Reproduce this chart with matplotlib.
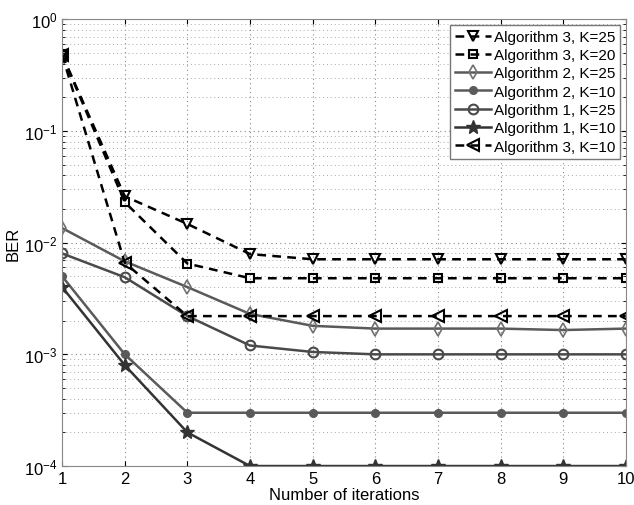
import matplotlib
matplotlib.use('Agg')
from matplotlib import pyplot as plt
from matplotlib.ticker import LogLocator, NullFormatter

plt.rcParams['font.family'] = ['Liberation Sans', 'DejaVu Sans']

iterations = [1, 2, 3, 4, 5, 6, 7, 8, 9, 10]

alg3_k25 = [0.48, 0.026, 0.0147, 0.0079, 0.0071, 0.0071, 0.0071, 0.0071, 0.0071, 0.0071]
alg3_k20 = [0.48, 0.023, 0.0065, 0.0048, 0.0048, 0.0048, 0.0048, 0.0048, 0.0048, 0.0048]
alg2_k25 = [0.0135, 0.0068, 0.0040, 0.0023, 0.0018, 0.0017, 0.0017, 0.0017, 0.00165, 0.0017]
alg2_k10 = [0.005, 0.001, 0.0003, 0.0003, 0.0003, 0.0003, 0.0003, 0.0003, 0.0003, 0.0003]
alg1_k25 = [0.008, 0.0049, 0.0022, 0.0012, 0.00105, 0.001, 0.001, 0.001, 0.001, 0.001]
alg1_k10 = [0.004, 0.0008, 0.0002, 0.0001, 0.0001, 0.0001, 0.0001, 0.0001, 0.0001, 0.0001]
alg3_k10 = [0.48, 0.0066, 0.0022, 0.0022, 0.0022, 0.0022, 0.0022, 0.0022, 0.0022, 0.0022]

fig = plt.figure(figsize=(6.34, 5.06), dpi=100)
ax = fig.add_axes([0.098, 0.077, 0.889, 0.883])

dash = (0, (3.5, 2.5))
ms = 7
ax.plot(iterations, alg3_k25, color='black', ls=dash, lw=1.8, marker='v',
        mfc='none', mec='black', ms=ms, mew=1.5, label='Algorithm 3, K=25')
ax.plot(iterations, alg3_k20, color='black', ls=dash, lw=1.8, marker='s',
        mfc='none', mec='black', ms=ms - 1, mew=1.5, label='Algorithm 3, K=20')
ax.plot(iterations, alg2_k25, color='#5a5a5a', ls='-', lw=1.8, marker='d',
        mfc='none', mec='#707070', ms=ms, mew=1.2, label='Algorithm 2, K=25')
ax.plot(iterations, alg2_k10, color='#5a5a5a', ls='-', lw=1.8, marker='o',
        mfc='#5a5a5a', mec='#5a5a5a', ms=5.5, label='Algorithm 2, K=10')
ax.plot(iterations, alg1_k25, color='#4a4a4a', ls='-', lw=1.8, marker='o',
        mfc='none', mec='#4a4a4a', ms=ms, mew=1.5, label='Algorithm 1, K=25')
ax.plot(iterations, alg1_k10, color='#333333', ls='-', lw=1.8, marker='*',
        mfc='#333333', mec='#333333', ms=10, label='Algorithm 1, K=10')
ax.plot(iterations, alg3_k10, color='black', ls=dash, lw=1.8, marker='<',
        mfc='none', mec='black', ms=ms + 1, mew=1.5, label='Algorithm 3, K=10')

ax.set_yscale('log')
ax.set_xlim(1, 10)
ax.set_ylim(1e-4, 1)
ax.set_xticks(iterations)
ax.yaxis.set_major_locator(LogLocator(base=10, numticks=10))
ax.yaxis.set_minor_locator(LogLocator(base=10, subs=range(2, 10), numticks=10))
ax.yaxis.set_minor_formatter(NullFormatter())

ax.grid(True, which='major', ls=(0, (1, 3)), color='#888888', lw=0.8)
ax.grid(True, which='minor', axis='y', ls=(0, (1, 3)), color='#aaaaaa', lw=0.7)
ax.tick_params(which='both', direction='in', top=True, right=True, labelsize=12)
ax.tick_params(which='minor', length=2)
for s in ax.spines.values():
    s.set_color('#888888')

ax.set_xlabel('Number of iterations', fontsize=12, labelpad=1)
ax.set_ylabel('BER', fontsize=12, labelpad=2)

leg = ax.legend(loc='upper right', fontsize=11, handlelength=2.3, handletextpad=0.2,
                labelspacing=0.28, borderpad=0.35, borderaxespad=0.35,
                fancybox=False, framealpha=1, edgecolor='#777777')

fig.savefig('out.png', dpi=100)
